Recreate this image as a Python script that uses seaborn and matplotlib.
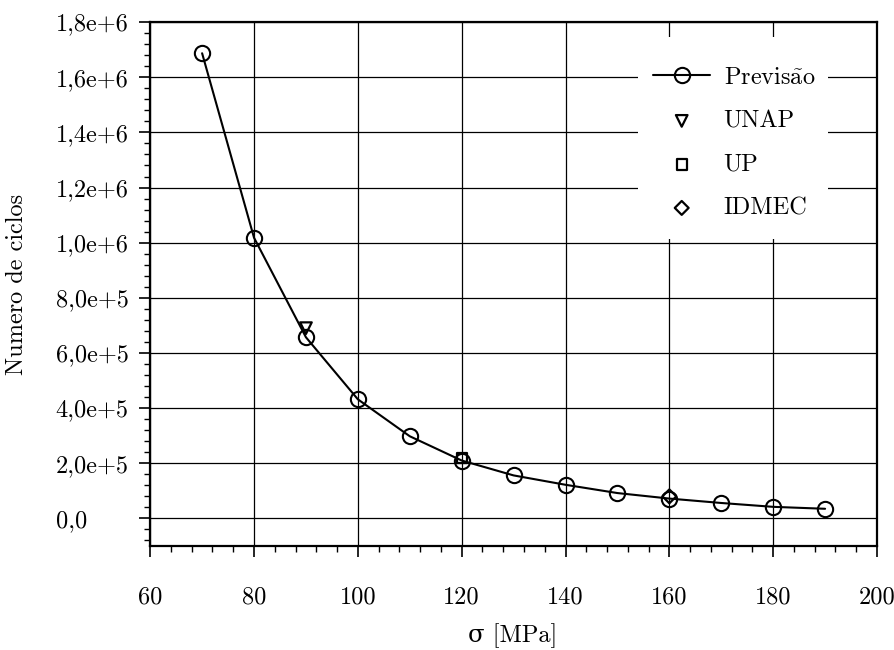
import matplotlib
matplotlib.use("Agg")
import matplotlib.pyplot as plt
import seaborn as sns
import pandas as pd
from matplotlib.patches import Rectangle
from matplotlib.ticker import FixedLocator, MultipleLocator, FixedFormatter

# ---- data ----
sigma = [70, 80, 90, 100, 110, 120, 130, 140, 150, 160, 170, 180, 190]
previsao = [1.687e6, 1.018e6, 0.657e6, 0.432e6, 0.298e6, 0.210e6, 0.156e6,
            0.122e6, 0.092e6, 0.072e6, 0.056e6, 0.042e6, 0.035e6]
unap_x = [90]
unap_y = [0.69e6]
up_x = [120]
up_y = [0.22e6]
idmec_x = [160]
idmec_y = [0.08e6]

x_ticks = [60, 80, 100, 120, 140, 160, 180, 200]
x_labels = ["60", "80", "100", "120", "140", "160", "180", "200"]
y_ticks = [0, 2e5, 4e5, 6e5, 8e5, 1.0e6, 1.2e6, 1.4e6, 1.6e6, 1.8e6]
y_labels = ["0,0", "2,0e+5", "4,0e+5", "6,0e+5", "8,0e+5",
            "1,0e+6", "1,2e+6", "1,4e+6", "1,6e+6", "1,8e+6"]

FS = 17.5

sns.set_theme(style="ticks")
plt.rcParams["font.family"] = ["cmr10", "DejaVu Serif"]
plt.rcParams["mathtext.fontset"] = "cm"
plt.rcParams["axes.unicode_minus"] = False

fig = plt.figure(figsize=(8.94, 6.5), dpi=100)
ax = fig.add_axes([0.168, 0.160, 0.813, 0.806])

df = pd.DataFrame({"sigma": sigma, "ciclos": previsao})
sns.lineplot(data=df, x="sigma", y="ciclos", ax=ax, color="black", lw=1.5,
             marker="o", markersize=11, markerfacecolor="none",
             markeredgecolor="black", markeredgewidth=1.5,
             label="Previs$\\tilde{\\mathrm{a}}$o", zorder=5)
sns.scatterplot(x=unap_x, y=unap_y, ax=ax, marker="v", s=70, facecolors="none",
                edgecolors="black", linewidths=1.6, label="UNAP", zorder=6)
sns.scatterplot(x=up_x, y=up_y, ax=ax, marker="s", s=55, facecolors="none",
                edgecolors="black", linewidths=1.6, label="UP", zorder=6)
sns.scatterplot(x=idmec_x, y=idmec_y, ax=ax, marker="D", s=50, facecolors="none",
                edgecolors="black", linewidths=1.6, label="IDMEC", zorder=6)

ax.set_xlim(60, 200)
ax.set_ylim(-1.0e5, 1.8e6)
ax.xaxis.set_major_locator(FixedLocator(x_ticks))
ax.xaxis.set_major_formatter(FixedFormatter(x_labels))
ax.yaxis.set_major_locator(FixedLocator(y_ticks))
ax.yaxis.set_major_formatter(FixedFormatter(y_labels))
ax.xaxis.set_minor_locator(MultipleLocator(4))
ax.yaxis.set_minor_locator(MultipleLocator(4e4))

ax.grid(True, which="major", color="black", lw=0.9)
for s in ax.spines.values():
    s.set_visible(True)
    s.set_color("black")
    s.set_linewidth(1.6)
ax.tick_params(which="major", direction="out", length=8, width=1.2,
               colors="black", labelsize=FS)
ax.tick_params(which="minor", direction="out", length=4, width=1.0,
               colors="black")
ax.tick_params(axis="x", which="major", pad=21)
ax.tick_params(axis="y", which="major", pad=60)
for lab in ax.get_yticklabels():
    lab.set_horizontalalignment("left")

ax.set_xlabel("σ [MPa]", fontsize=FS, color="black")
ax.set_ylabel("Numero de ciclos", fontsize=FS, color="black")
ax.xaxis.set_label_coords(0.499, -0.148)
ax.yaxis.set_label_coords(-0.168, 0.5)

# white area behind the legend (hides the grid there)
ax.add_patch(Rectangle((0.671, 0.586), 0.262, 0.385, transform=ax.transAxes,
                       facecolor="white", edgecolor="none", zorder=3))

leg = ax.legend(loc="upper left", bbox_to_anchor=(0.692, 0.915), fontsize=FS,
                frameon=False, borderpad=0, labelspacing=0.88,
                handlelength=2.35, handletextpad=0.55, borderaxespad=0)
leg.set_zorder(10)
for t in leg.get_texts():
    t.set_color("black")

fig.savefig("out.png", dpi=100, facecolor="white")
